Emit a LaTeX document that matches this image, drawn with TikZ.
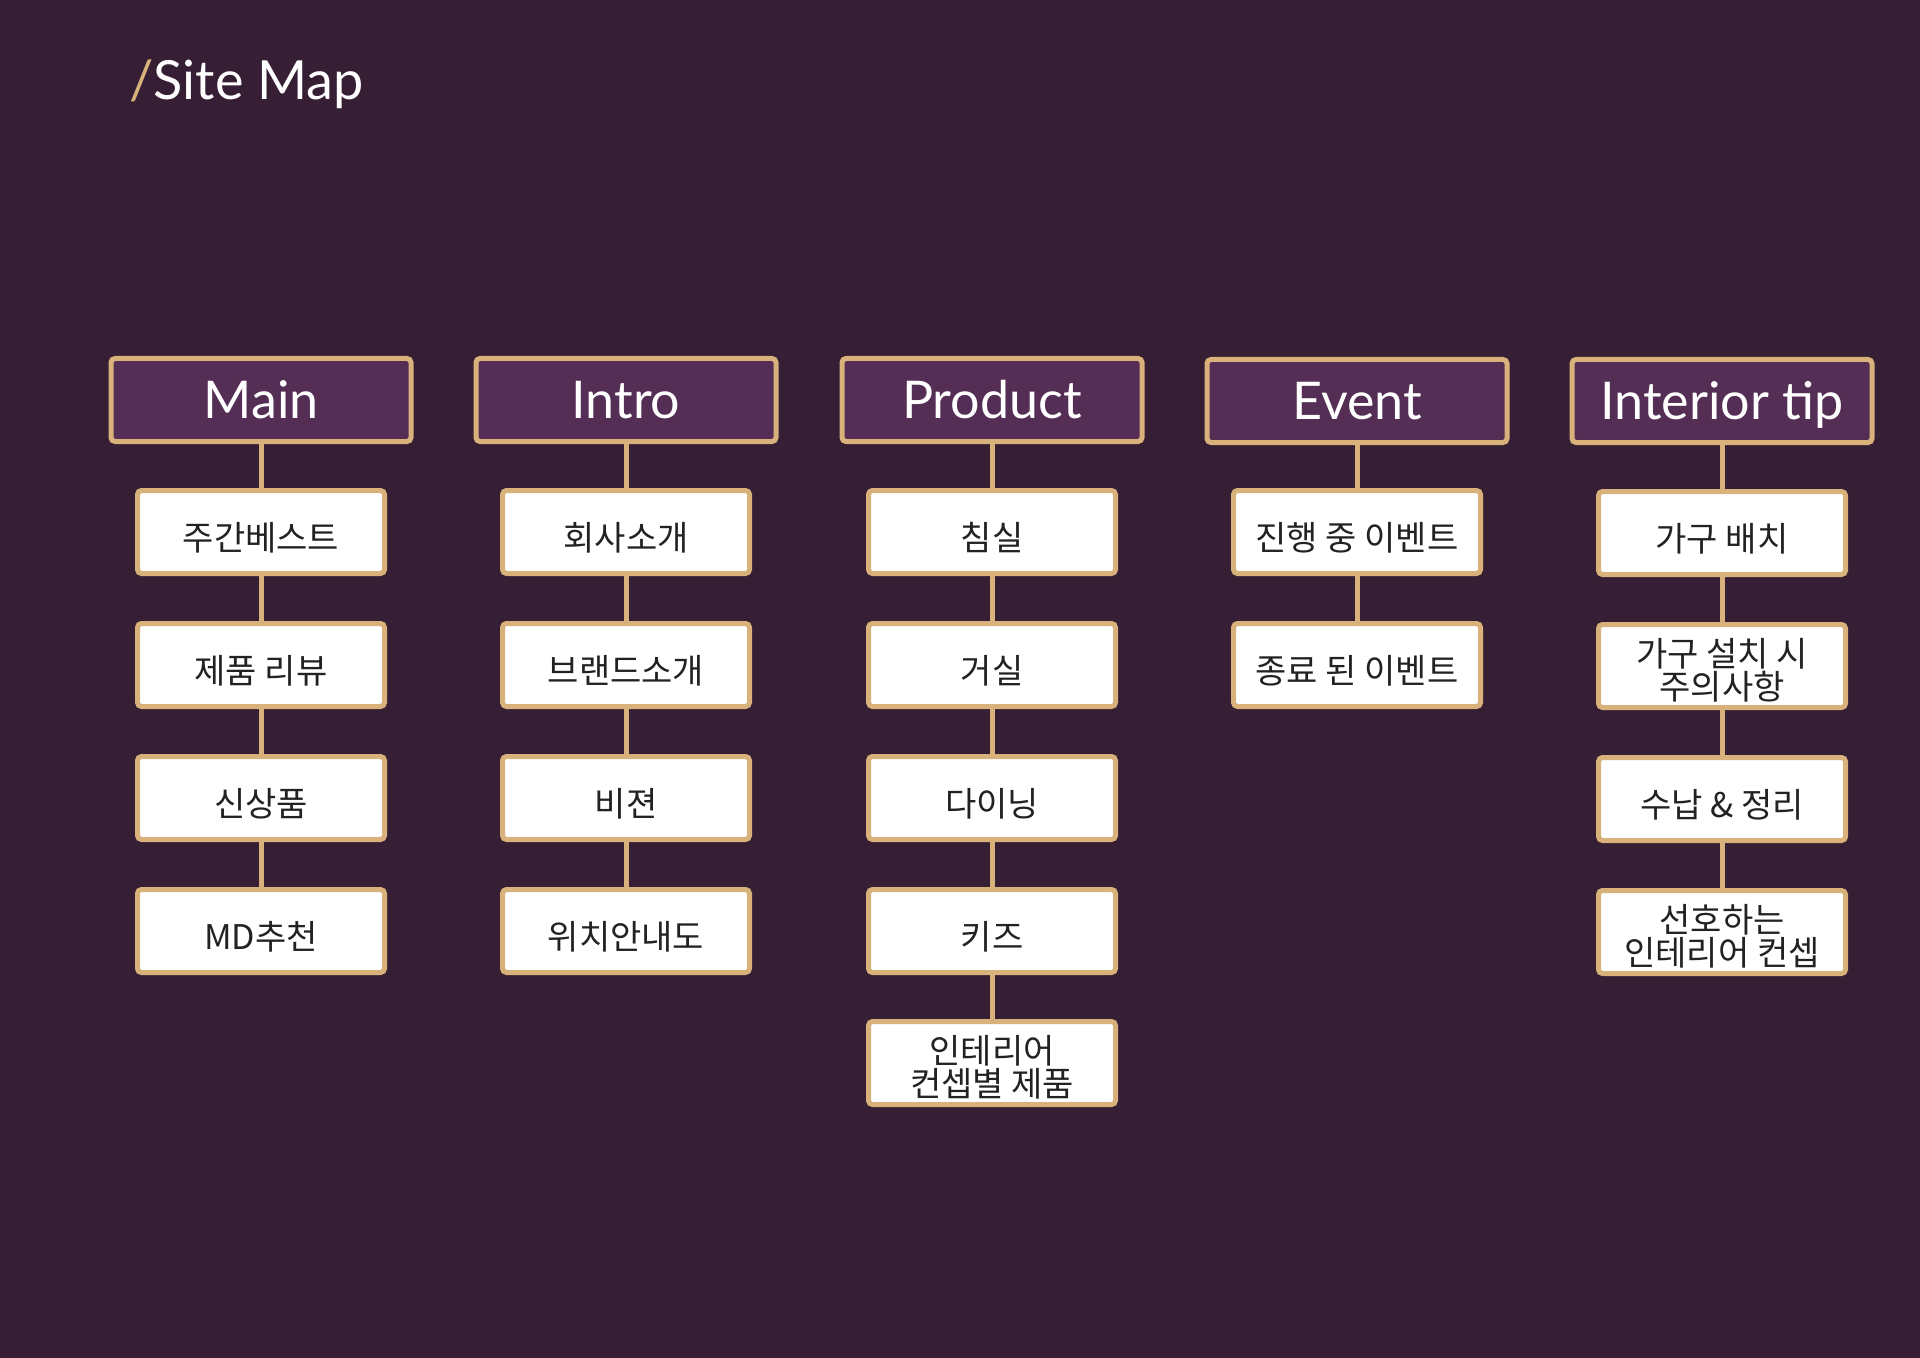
\documentclass[tikz,border=0pt]{standalone}
\usepackage{fontspec}
\setmainfont{Lato}
\newfontfamily\kr{Noto Sans CJK KR}
\definecolor{bg}{HTML}{361E34}
\definecolor{plum}{HTML}{552E55}
\definecolor{gold}{HTML}{D8B17B}
\definecolor{ink}{HTML}{222222}
\tikzset{
  head/.style={draw=gold, line width=2.5pt, fill=plum, rounded corners=2pt,
    minimum width=150pt, minimum height=41.5pt, inner sep=0pt, text=white,
    font=\fontsize{26}{30}\selectfont, text height=18.7pt, text depth=0pt},
  itembase/.style={draw=gold, line width=2.5pt, fill=white, rounded corners=2pt,
    minimum width=123.5pt, minimum height=41.5pt, inner sep=0pt, text=ink,
    font=\kr\fontsize{17}{14.8}\selectfont, align=center},
  item/.style={itembase, text height=18pt, text depth=0pt},
  item2/.style={itembase, text height=33.5pt, text depth=0pt},
  link/.style={draw=gold, line width=2.5pt}
}
\begin{document}
\begin{tikzpicture}[x=0.5pt,y=-0.5pt]
\fill[bg] (0,0) rectangle (1920,1358);
\useasboundingbox (0,0) rectangle (1920,1358);
\node[anchor=base west, inner sep=0pt, font=\fontsize{27}{31}\selectfont] (title) at (129,100)
  {\textcolor{gold}{/}\textcolor{white}{Site Map}};

% Main
\node[head] (h1) at (261,400) {Main};
\node[item] (a1) at (261,532) {주간베스트};
\node[item] (a2) at (261,665) {제품 리뷰};
\node[item] (a3) at (261,798) {신상품};
\node[item] (a4) at (261,931) {MD추천};
% Intro
\node[head] (h2) at (626,400) {Intro};
\node[item] (b1) at (626,532) {회사소개};
\node[item] (b2) at (626,665) {브랜드소개};
\node[item] (b3) at (626,798) {비젼};
\node[item] (b4) at (626,931) {위치안내도};
% Product
\node[head] (h3) at (992,400) {Product};
\node[item] (c1) at (992,532) {침실};
\node[item] (c2) at (992,665) {거실};
\node[item] (c3) at (992,798) {다이닝};
\node[item] (c4) at (992,931) {키즈};
\node[item2] (c5) at (992,1063) {인테리어\\컨셉별 제품};
% Event
\node[head] (h4) at (1357,401) {Event};
\node[item] (d1) at (1357,532) {진행 중 이벤트};
\node[item] (d2) at (1357,665) {종료 된 이벤트};
% Interior tip
\node[head] (h5) at (1722,401) {Interior tip};
\node[item] (e1) at (1722,533) {가구 배치};
\node[item2] (e2) at (1722,666) {가구 설치 시\\주의사항};
\node[item] (e3) at (1722,799) {수납 \& 정리};
\node[item2] (e4) at (1722,932) {선호하는\\인테리어 컨셉};

\draw[link] (h1) -- (a1); \draw[link] (a1) -- (a2); \draw[link] (a2) -- (a3); \draw[link] (a3) -- (a4);
\draw[link] (h2) -- (b1); \draw[link] (b1) -- (b2); \draw[link] (b2) -- (b3); \draw[link] (b3) -- (b4);
\draw[link] (h3) -- (c1); \draw[link] (c1) -- (c2); \draw[link] (c2) -- (c3); \draw[link] (c3) -- (c4); \draw[link] (c4) -- (c5);
\draw[link] (h4) -- (d1); \draw[link] (d1) -- (d2);
\draw[link] (h5) -- (e1); \draw[link] (e1) -- (e2); \draw[link] (e2) -- (e3); \draw[link] (e3) -- (e4);
\end{tikzpicture}
\end{document}
